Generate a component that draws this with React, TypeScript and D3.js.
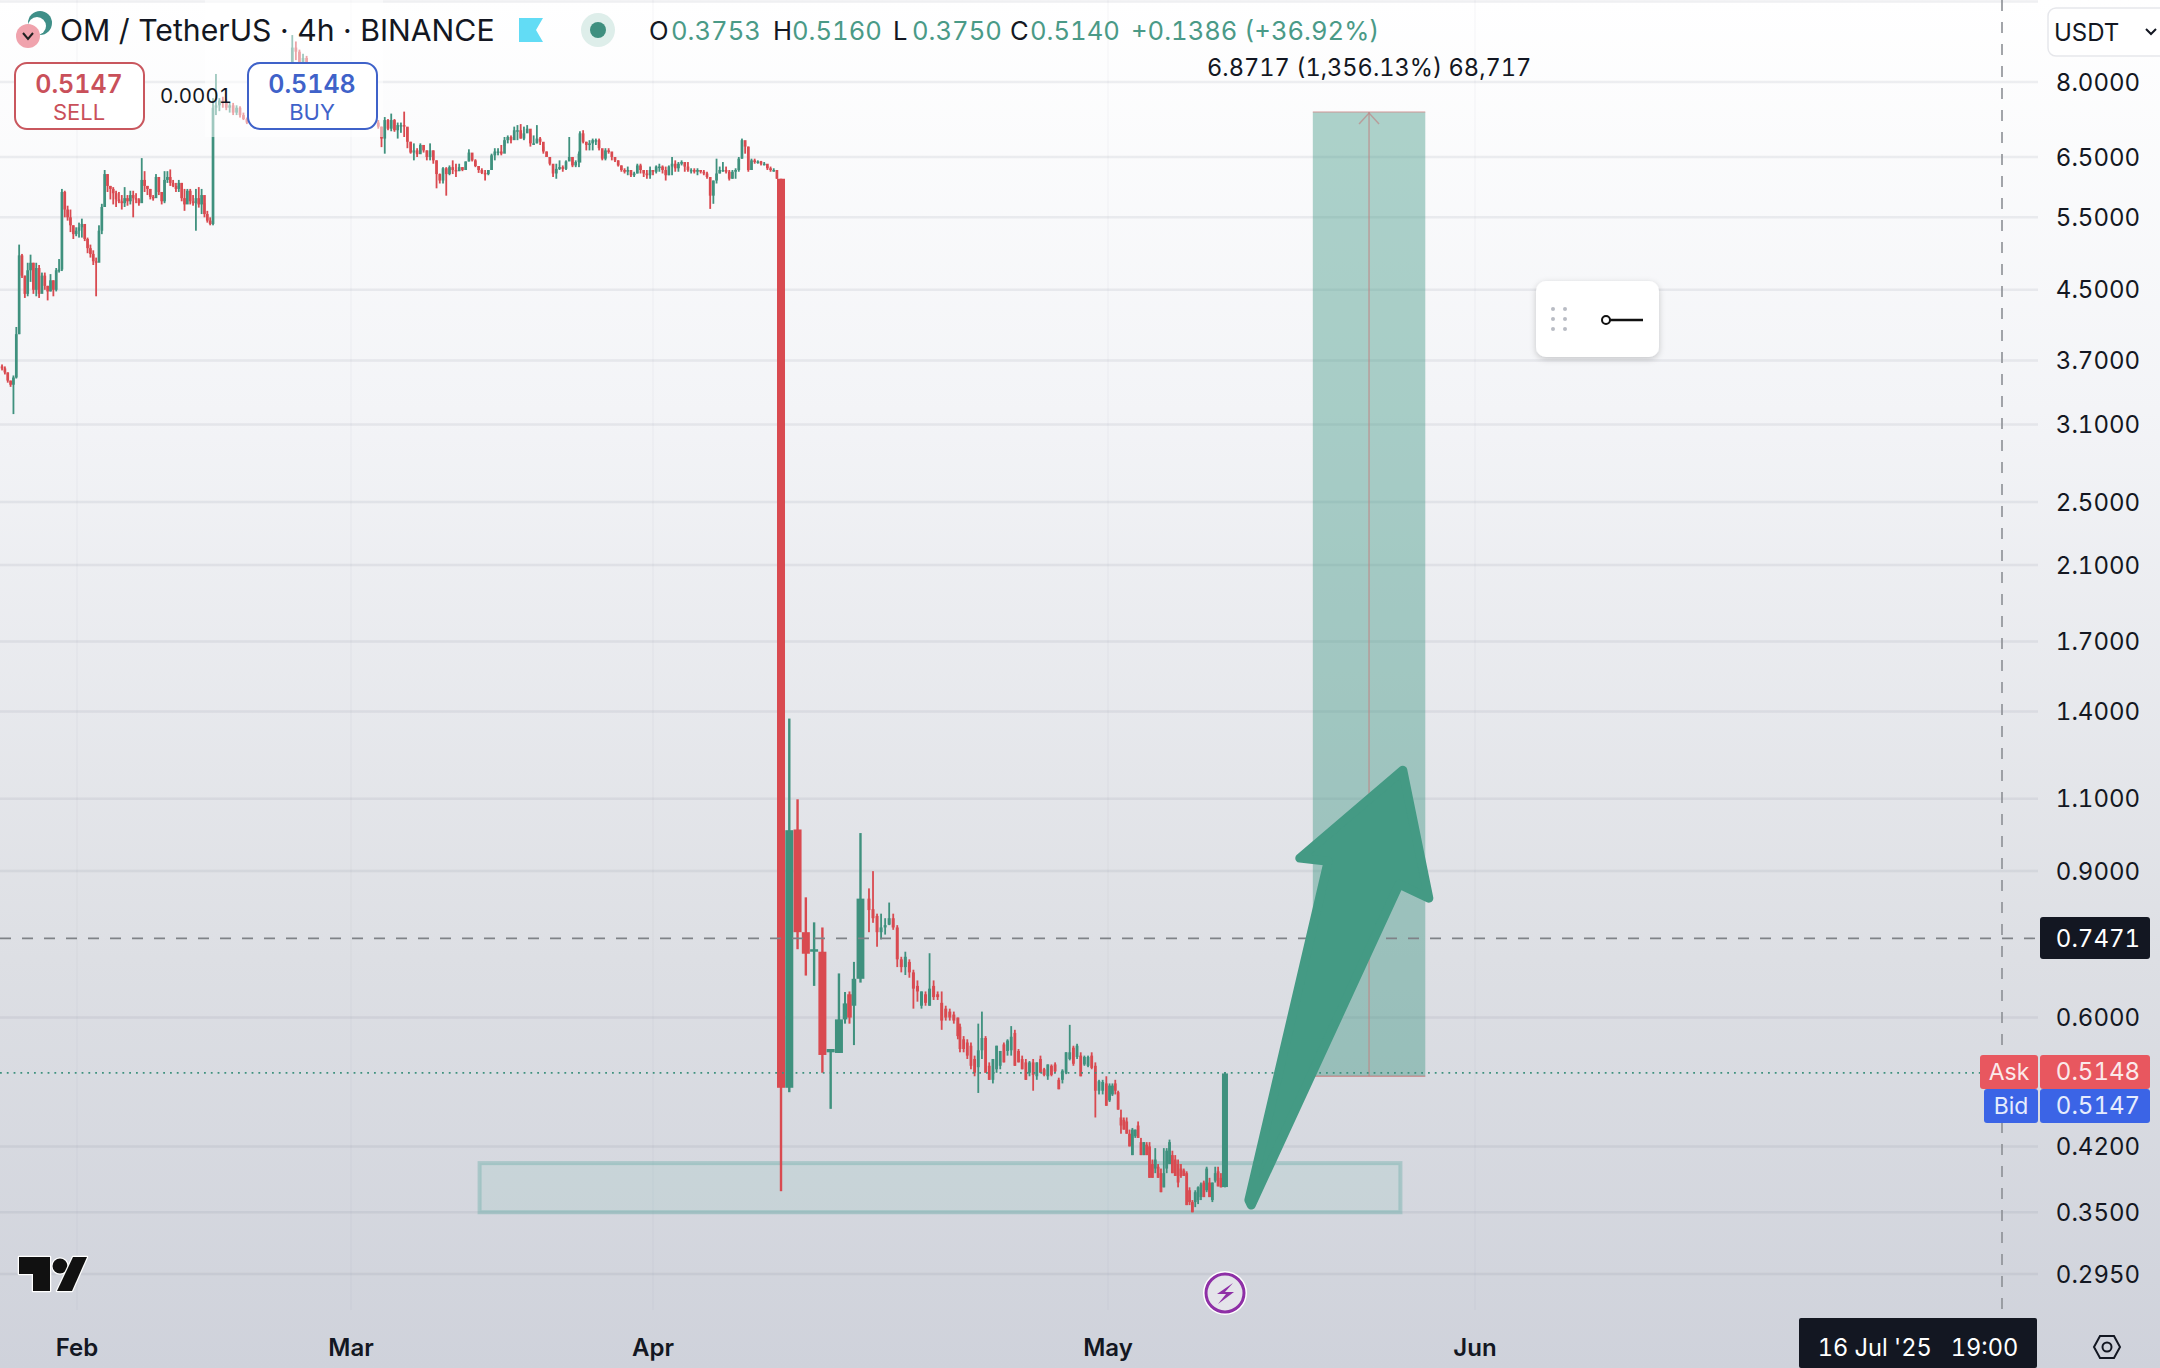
import * as d3 from 'd3';

type Hlc = [number, number, number];
type Ohlc = [number, number, number, number];

// axis values
const priceTicks = [8, 6.5, 5.5, 4.5, 3.7, 3.1, 2.5, 2.1, 1.7, 1.4, 1.1, 0.9, 0.6, 0.42, 0.35, 0.295];
const gridPrices = [10, ...priceTicks];
const monthNames = ['Feb', 'Mar', 'Apr', 'May', 'Jun'];
const monthDays = [0, 28, 59, 89, 120];

// quoted prices
const crosshairPrice = 0.7471;
const askPrice = 0.5148;
const bidPrice = 0.5147;
const positionEntry = 0.51;
const positionTarget = 7.36;
const zoneLow = 0.35;
const zoneHigh = 0.401;

// [high, low, close], open is the close before
const febBars: Hlc[] = [
  [3.66, 3.6, 3.62], [3.64, 3.56, 3.58], [3.58, 3.48, 3.5], [3.5, 3.44, 3.46], [3.55, 3.19, 3.53], [4.06, 3.52, 3.98],
  [5.1, 3.98, 4.95], [4.97, 4.65, 4.68], [4.68, 4.4, 4.45], [4.85, 4.42, 4.75], [4.96, 4.6, 4.85], [4.85, 4.45, 4.5],
  [4.85, 4.42, 4.78], [4.82, 4.4, 4.45], [4.72, 4.5, 4.68], [4.72, 4.5, 4.55], [4.55, 4.37, 4.48], [4.7, 4.48, 4.62],
  [4.62, 4.42, 4.5], [4.78, 4.48, 4.75], [4.9, 4.72, 4.76], [5.95, 4.74, 5.9], [5.92, 5.5, 5.62], [5.68, 5.45, 5.5],
  [5.62, 5.28, 5.38], [5.38, 5.18, 5.25], [5.35, 5.22, 5.3], [5.42, 5.2, 5.35], [5.48, 5.2, 5.4], [5.38, 5.15, 5.18],
  [5.2, 4.98, 5.05], [5.1, 4.92, 4.97], [5.02, 4.82, 4.87], [4.92, 4.42, 4.85], [5.38, 4.95, 5.3], [5.71, 5.25, 5.66],
  [6.27, 5.66, 6.2], [6.2, 5.9, 6.0], [6.0, 5.78, 5.95], [5.98, 5.7, 5.88], [5.92, 5.66, 5.78], [5.9, 5.72, 5.75],
  [5.85, 5.62, 5.72], [5.98, 5.66, 5.8], [5.85, 5.68, 5.75], [5.92, 5.7, 5.85], [5.92, 5.5, 5.8], [5.88, 5.72, 5.78],
  [5.8, 5.68, 5.72], [6.48, 5.75, 6.1], [6.25, 5.9, 6.0], [6.0, 5.85, 5.95], [5.95, 5.78, 5.82], [5.85, 5.76, 5.8],
  [6.2, 5.9, 6.15], [6.15, 5.85, 5.9], [5.9, 5.7, 5.75], [6.25, 5.72, 6.1], [6.25, 6.05, 6.15], [6.28, 6.0, 6.05],
  [6.1, 5.98, 6.0], [6.05, 5.9, 5.95], [6.1, 5.9, 6.05], [6.05, 5.75, 5.8], [5.95, 5.6, 5.7], [5.95, 5.75, 5.92],
  [5.95, 5.7, 5.75], [5.85, 5.68, 5.72], [5.95, 5.3, 5.8], [5.98, 5.65, 5.7], [5.95, 5.55, 5.85], [5.72, 5.5, 5.55],
  [5.6, 5.42, 5.45], [5.5, 5.38, 5.4], [7.65, 5.38, 7.45],
];

const spikeBars: Hlc[] = [
  [8.18, 7.3, 7.5], [7.65, 7.38, 7.6], [7.68, 7.45, 7.55], [7.62, 7.4, 7.45], [7.55, 7.35, 7.5], [7.55, 7.3, 7.35],
  [7.5, 7.3, 7.45], [7.48, 7.25, 7.3], [7.35, 7.2, 7.22], [7.25, 7.12, 7.15],
];

// only the tops show above the BUY box
const peakBars: Hlc[] = [
  [9.11, 8.3, 8.8], [8.95, 8.5, 8.7], [8.75, 8.35, 8.45], [8.65, 8.35, 8.55], [8.6, 8.3, 8.4], [8.45, 8.2, 8.3],
];

const marBars: Hlc[] = [
  [7.2, 7.03, 7.07], [7.07, 6.68, 6.84], [7.26, 6.56, 7.2], [7.22, 7.0, 7.03], [7.33, 6.98, 7.2], [7.22, 6.97, 7.0],
  [7.15, 6.84, 7.1], [7.15, 6.95, 7.1], [7.37, 6.87, 7.07], [7.05, 6.66, 6.78], [6.78, 6.56, 6.58], [6.75, 6.44, 6.62],
  [6.66, 6.5, 6.55], [6.75, 6.58, 6.72], [6.72, 6.58, 6.62], [6.62, 6.44, 6.5], [6.75, 6.44, 6.62], [6.62, 6.38, 6.44],
  [6.44, 5.96, 6.2], [6.21, 6.04, 6.09], [6.32, 6.04, 6.3], [6.32, 5.84, 6.2], [6.35, 6.18, 6.32], [6.44, 6.2, 6.27],
  [6.38, 6.15, 6.25], [6.38, 6.25, 6.32], [6.32, 6.25, 6.27], [6.42, 6.27, 6.42], [6.64, 6.42, 6.58], [6.55, 6.42, 6.44],
  [6.46, 6.32, 6.34], [6.34, 6.22, 6.27], [6.3, 6.2, 6.22], [6.27, 6.09, 6.2], [6.27, 6.18, 6.27], [6.56, 6.27, 6.53],
  [6.66, 6.44, 6.6], [6.66, 6.53, 6.6], [6.72, 6.53, 6.56], [6.87, 6.7, 6.81], [6.9, 6.75, 6.87], [6.9, 6.75, 6.81],
  [7.07, 6.95, 7.0], [7.1, 6.81, 7.0], [7.12, 6.84, 6.84], [7.07, 6.81, 6.94], [7.1, 6.97, 7.03], [6.94, 6.69, 6.75],
  [6.9, 6.72, 6.75], [7.1, 6.75, 6.84], [6.87, 6.72, 6.78], [6.69, 6.56, 6.6], [6.6, 6.5, 6.5], [6.5, 6.35, 6.38],
  [6.32, 6.15, 6.21], [6.38, 6.12, 6.29], [6.44, 6.27, 6.32], [6.35, 6.24, 6.29], [6.44, 6.27, 6.42], [6.87, 6.5, 6.5],
  [6.5, 6.32, 6.35], [6.44, 6.32, 6.41], [6.6, 6.32, 6.56],
];

const aprBars: Hlc[] = [
  [6.98, 6.47, 6.94], [7.0, 6.75, 6.78], [6.78, 6.62, 6.72], [6.81, 6.62, 6.75], [6.84, 6.62, 6.81], [6.84, 6.72, 6.81],
  [6.84, 6.62, 6.66], [6.62, 6.44, 6.47], [6.66, 6.44, 6.62], [6.66, 6.56, 6.6], [6.56, 6.44, 6.5], [6.5, 6.41, 6.44],
  [6.44, 6.33, 6.35], [6.35, 6.24, 6.27], [6.3, 6.21, 6.24], [6.33, 6.18, 6.27], [6.24, 6.15, 6.18], [6.24, 6.15, 6.21],
  [6.38, 6.21, 6.35], [6.38, 6.21, 6.27], [6.27, 6.15, 6.21], [6.27, 6.12, 6.18], [6.33, 6.12, 6.27], [6.27, 6.18, 6.24],
  [6.35, 6.21, 6.33], [6.38, 6.24, 6.33], [6.35, 6.21, 6.27], [6.33, 6.09, 6.18], [6.35, 6.18, 6.33], [6.5, 6.18, 6.38],
  [6.44, 6.24, 6.3], [6.41, 6.24, 6.38], [6.44, 6.35, 6.41], [6.38, 6.24, 6.33], [6.41, 6.24, 6.27], [6.3, 6.21, 6.27],
  [6.3, 6.21, 6.24], [6.3, 6.18, 6.27], [6.27, 6.21, 6.24], [6.27, 6.18, 6.21], [6.24, 6.12, 6.15], [6.15, 5.63, 5.84],
  [6.09, 5.71, 6.09], [6.47, 6.04, 6.21], [6.33, 6.21, 6.27], [6.41, 6.24, 6.27], [6.33, 6.21, 6.24], [6.27, 6.09, 6.12],
  [6.27, 6.12, 6.24], [6.3, 6.12, 6.27], [6.5, 6.24, 6.47], [6.84, 6.47, 6.81], [6.78, 6.56, 6.69], [6.69, 6.24, 6.27],
  [6.47, 6.27, 6.44], [6.47, 6.38, 6.41], [6.44, 6.38, 6.42], [6.43, 6.35, 6.38], [6.41, 6.35, 6.38], [6.35, 6.27, 6.3],
  [6.33, 6.24, 6.27], [6.3, 6.24, 6.27], [6.27, 6.12, 6.12],
];

// [open, high, low, close]
const crashBars: Ohlc[] = [
  [6.12, 6.12, 0.371, 0.494], [0.494, 1.373, 0.488, 1.008], [1.01, 1.098, 0.725, 0.76], [0.76, 0.837, 0.674, 0.716],
  [0.72, 0.781, 0.655, 0.725], [0.72, 0.77, 0.515, 0.541], [0.545, 0.55, 0.466, 0.55], [0.544, 0.678, 0.544, 0.597],
];
const reboundBars: Ohlc[] = [[0.597, 0.644, 0.59, 0.624], [0.64, 0.645, 0.59, 0.6], [0.62, 0.7, 0.556, 0.668]];
const topBar: Ohlc[] = [[0.668, 1.0, 0.661, 0.834]];

const slideBars: Ohlc[] = [
  [0.834, 0.858, 0.76, 0.808], [0.81, 0.9, 0.78, 0.79], [0.795, 0.8, 0.73, 0.76], [0.76, 0.8, 0.745, 0.77],
  [0.77, 0.79, 0.755, 0.775], [0.776, 0.825, 0.775, 0.79], [0.79, 0.8, 0.765, 0.77], [0.77, 0.775, 0.69, 0.705],
  [0.705, 0.71, 0.68, 0.69], [0.69, 0.72, 0.675, 0.71], [0.7, 0.705, 0.67, 0.68], [0.68, 0.685, 0.615, 0.65],
  [0.655, 0.665, 0.627, 0.645], [0.62, 0.645, 0.615, 0.645], [0.64, 0.645, 0.62, 0.625], [0.62, 0.717, 0.62, 0.65],
  [0.655, 0.665, 0.63, 0.635], [0.64, 0.645, 0.63, 0.635], [0.625, 0.645, 0.58, 0.595], [0.615, 0.62, 0.595, 0.6],
  [0.61, 0.615, 0.595, 0.6], [0.605, 0.61, 0.59, 0.595], [0.6, 0.6, 0.565, 0.57],
];

const mayBars: Ohlc[] = [
  [0.585, 0.59, 0.545, 0.55], [0.565, 0.57, 0.545, 0.55], [0.56, 0.565, 0.535, 0.54], [0.555, 0.56, 0.52, 0.525],
  [0.535, 0.54, 0.51, 0.515], [0.523, 0.59, 0.487, 0.548], [0.548, 0.61, 0.535, 0.567], [0.567, 0.57, 0.515, 0.515],
  [0.525, 0.53, 0.505, 0.505], [0.505, 0.535, 0.5, 0.535], [0.52, 0.555, 0.515, 0.555], [0.525, 0.547, 0.52, 0.547],
  [0.557, 0.56, 0.53, 0.53], [0.547, 0.565, 0.54, 0.563], [0.548, 0.586, 0.54, 0.569], [0.575, 0.58, 0.525, 0.525],
  [0.547, 0.55, 0.53, 0.53], [0.535, 0.54, 0.52, 0.52], [0.53, 0.535, 0.505, 0.505], [0.515, 0.532, 0.51, 0.53],
  [0.53, 0.535, 0.49, 0.512], [0.51, 0.53, 0.505, 0.53], [0.535, 0.54, 0.515, 0.515], [0.52, 0.522, 0.51, 0.512],
  [0.51, 0.527, 0.505, 0.527], [0.525, 0.527, 0.51, 0.512], [0.527, 0.53, 0.515, 0.517], [0.505, 0.508, 0.492, 0.492],
  [0.505, 0.52, 0.5, 0.518], [0.515, 0.545, 0.513, 0.545], [0.535, 0.588, 0.533, 0.545], [0.552, 0.555, 0.525, 0.528],
  [0.538, 0.558, 0.535, 0.555], [0.54, 0.545, 0.51, 0.51], [0.527, 0.54, 0.525, 0.538], [0.525, 0.54, 0.523, 0.538],
  [0.54, 0.545, 0.52, 0.522], [0.525, 0.53, 0.455, 0.49], [0.49, 0.505, 0.485, 0.503], [0.49, 0.505, 0.485, 0.502],
  [0.5, 0.51, 0.47, 0.47], [0.477, 0.5, 0.475, 0.497], [0.485, 0.5, 0.483, 0.497], [0.5, 0.505, 0.485, 0.49],
  [0.488, 0.49, 0.465, 0.465], [0.455, 0.465, 0.435, 0.445], [0.452, 0.455, 0.44, 0.44], [0.45, 0.455, 0.435, 0.435],
  [0.435, 0.44, 0.42, 0.42], [0.41, 0.442, 0.41, 0.44], [0.432, 0.44, 0.43, 0.44], [0.445, 0.45, 0.43, 0.43],
  [0.425, 0.43, 0.41, 0.41], [0.41, 0.425, 0.41, 0.425], [0.422, 0.425, 0.41, 0.41], [0.42, 0.425, 0.385, 0.385],
  [0.4, 0.405, 0.385, 0.385], [0.395, 0.418, 0.39, 0.405], [0.397, 0.4, 0.385, 0.385], [0.39, 0.395, 0.37, 0.37],
  [0.375, 0.418, 0.375, 0.39], [0.395, 0.418, 0.39, 0.415], [0.4, 0.428, 0.4, 0.425], [0.41, 0.415, 0.39, 0.39],
  [0.405, 0.41, 0.387, 0.387], [0.4, 0.405, 0.375, 0.38], [0.395, 0.4, 0.385, 0.387], [0.393, 0.395, 0.387, 0.387],
  [0.39, 0.392, 0.357, 0.357], [0.372, 0.375, 0.357, 0.36], [0.36, 0.362, 0.35, 0.35], [0.36, 0.372, 0.355, 0.37],
  [0.362, 0.376, 0.358, 0.375], [0.365, 0.38, 0.362, 0.378], [0.38, 0.382, 0.365, 0.365], [0.372, 0.397, 0.37, 0.395],
  [0.38, 0.385, 0.365, 0.365], [0.362, 0.38, 0.36, 0.38], [0.382, 0.397, 0.38, 0.39], [0.392, 0.397, 0.376, 0.376],
  [0.385, 0.39, 0.375, 0.375],
];
const breakoutBar: Ohlc[] = [[0.3753, 0.516, 0.375, 0.514]];

// [day since 1 Feb, price] for the hand drawn arrow
const arrowOutline: [number, number][] = [
  [100.9, 0.362], [107.6, 0.925], [105.2, 0.933], [113.9, 1.19], [116.1, 0.835], [113.6, 0.868], [101.1, 0.357],
];

const FONT = 'Inter, "Noto Sans", sans-serif';
const RED = '#d94a50';
const GREEN = '#3f917e';
const INK = '#131722';
const TNUM = { fontVariantNumeric: 'tabular-nums' };

const withOpens = (bars: Hlc[], first: number): Ohlc[] => {
  let prev = first;
  return bars.map(([h, l, c]) => {
    const bar: Ohlc = [prev, h, l, c];
    prev = c;
    return bar;
  });
};

const aprOhlc = withOpens(aprBars, 6.4);

// April run is split at the month start because the time scale changes pace there
const segments: { bars: Ohlc[]; from: number; to: number; body: number; wick: number }[] = [
  { bars: withOpens(febBars, 3.64), from: -7.66, to: 13.9, body: 2.7, wick: 1.8 },
  { bars: withOpens(spikeBars, 7.45), from: 14.2, to: 17.36, body: 2.7, wick: 1.8 },
  { bars: withOpens(peakBars, 8.4), from: 22, to: 23.83, body: 2.7, wick: 1.8 },
  { bars: withOpens(marBars, 7.15), from: 30.8, to: 51.4, body: 2.7, wick: 1.8 },
  { bars: aprOhlc.slice(0, 23), from: 51.5, to: 58.7, body: 2.7, wick: 1.8 },
  { bars: aprOhlc.slice(23), from: 59, to: 67.17, body: 2.7, wick: 1.8 },
  { bars: crashBars, from: 67.44, to: 71.26, body: 8, wick: 2.4 },
  { bars: reboundBars, from: 71.66, to: 72.25, body: 4.6, wick: 2 },
  { bars: topBar, from: 72.68, to: 72.68, body: 7.8, wick: 2.4 },
  { bars: slideBars, from: 73.24, to: 79.1, body: 3, wick: 1.8 },
  { bars: mayBars, from: 79.24, to: 98.54, body: 2.8, wick: 1.8 },
  { bars: breakoutBar, from: 98.88, to: 98.88, body: 6, wick: 2 },
];

export default function App() {
  const x = d3.scaleLinear().domain(monthDays).range([77, 351, 653, 1108, 1475]);
  const y = d3.scaleLog().domain([8, 0.295]).range([82, 1274]);
  const arrowPath = d3
    .line<[number, number]>()
    .x((d) => x(d[0]))
    .y((d) => y(d[1]))
    .curve(d3.curveLinearClosed)(arrowOutline);

  const zoneX0 = x(41.2);
  const zoneX1 = x(113.7);
  const posX0 = x(106.3);
  const posX1 = x(115.8);
  const posMid = (posX0 + posX1) / 2;
  const posTop = y(positionTarget);
  const posBottom = y(positionEntry);

  return (
    <svg width={2160} height={1368} style={{ position: 'fixed', left: 0, top: 0, fontFamily: FONT }}>
      <defs>
        <linearGradient id="bg" x1="0" y1="0" x2="0" y2="1">
          <stop offset="0" stopColor="#ffffff" />
          <stop offset="0.3" stopColor="#f3f4f7" />
          <stop offset="0.7" stopColor="#dddfe4" />
          <stop offset="1" stopColor="#cfd2db" />
        </linearGradient>
        <filter id="soft" x="-20%" y="-20%" width="140%" height="150%">
          <feDropShadow dx="0" dy="2" stdDeviation="3" floodColor="#000" floodOpacity="0.2" />
        </filter>
      </defs>
      <rect width={2160} height={1368} fill="url(#bg)" />

      {monthDays.map((d) => (
        <line key={d} x1={x(d)} x2={x(d)} y1={0} y2={1310} stroke="rgba(120,125,150,0.035)" strokeWidth={2} />
      ))}
      {gridPrices.map((p) => (
        <line key={p} x1={0} x2={2038} y1={y(p)} y2={y(p)} stroke="rgba(110,115,140,0.11)" strokeWidth={2.5} />
      ))}

      {/* demand zone */}
      <rect
        x={zoneX0}
        y={y(zoneHigh)}
        width={zoneX1 - zoneX0}
        height={y(zoneLow) - y(zoneHigh)}
        fill="rgba(120,190,180,0.14)"
        stroke="rgba(110,175,170,0.42)"
        strokeWidth={4}
      />

      {/* candles */}
      {segments.map((seg, si) => {
        const step = d3.scaleLinear().domain([0, Math.max(1, seg.bars.length - 1)]).range([seg.from, seg.to]);
        return (
          <g key={si}>
            {seg.bars.map(([o, h, l, c], i) => {
              const cx = x(step(i));
              const color = c >= o ? GREEN : RED;
              const top = y(Math.max(o, c));
              return (
                <g key={i} fill={color}>
                  <rect x={cx - seg.wick / 2} width={seg.wick} y={y(h)} height={y(l) - y(h)} />
                  <rect x={cx - seg.body / 2} width={seg.body} y={top} height={Math.max(1.5, y(Math.min(o, c)) - top)} />
                </g>
              );
            })}
          </g>
        );
      })}

      {/* long position tool */}
      <rect x={posX0} y={posTop} width={posX1 - posX0} height={posBottom - posTop} fill="rgba(62,150,132,0.42)" />
      <line x1={posX0} x2={posX1} y1={posTop} y2={posTop} stroke="rgba(200,130,130,0.55)" strokeWidth={1.5} />
      <line x1={posX0} x2={posX1} y1={posBottom} y2={posBottom} stroke="rgba(200,110,110,0.6)" strokeWidth={1.5} />
      <line x1={posMid} x2={posMid} y1={posTop} y2={posBottom} stroke="rgba(190,130,130,0.65)" strokeWidth={1.5} />
      <path
        d={`M${posMid - 10} ${posTop + 12} L${posMid} ${posTop + 1} L${posMid + 10} ${posTop + 12}`}
        fill="none"
        stroke="rgba(190,130,130,0.65)"
        strokeWidth={1.5}
      />

      {/* price and crosshair lines */}
      <line x1={0} x2={1980} y1={y(askPrice)} y2={y(askPrice)} stroke={GREEN} strokeWidth={1.8} strokeDasharray="1.8 5" />
      <line
        x1={0}
        x2={2036}
        y1={y(crosshairPrice)}
        y2={y(crosshairPrice)}
        stroke="#7f8287"
        strokeWidth={1.6}
        strokeDasharray="11 11"
      />
      <line x1={2002} x2={2002} y1={0} y2={1310} stroke="#8c8f95" strokeWidth={1.6} strokeDasharray="11 11" />

      <path d={arrowPath ?? ''} fill="#449a84" stroke="#449a84" strokeWidth={9} strokeLinejoin="round" />

      {/* legend fades what runs under it */}
      <rect x={205} y={0} width={178} height={137} fill="#fff" opacity={0.5} />

      {/* legend */}
      <circle cx={40} cy={23} r={12} fill="#3f8f88" />
      <circle cx={37} cy={26} r={9} fill="#fff" />
      <circle cx={28} cy={36} r={12} fill="#f0a3ad" />
      <path d="M23 33 L28 39 L33 33" fill="none" stroke="#222" strokeWidth={2} />
      <text x={60} y={41} fontSize={30.2} fill={INK}>OM / TetherUS · 4h · BINANCE</text>
      <path d="M519 18 H543 L536 30 L543 42 H519Z" fill="#62dcf5" />
      <circle cx={598} cy={30} r={17} fill="#deeeea" />
      <circle cx={598} cy={30} r={8} fill="#3f8f7f" />
      <g fontSize={25.6} style={TNUM}>
        <text x={649} y={40} fill={INK}>O</text>
        <text x={671} y={40} fill="#4a9a87">0.3753</text>
        <text x={773} y={40} fill={INK}>H</text>
        <text x={792} y={40} fill="#4a9a87">0.5160</text>
        <text x={893} y={40} fill={INK}>L</text>
        <text x={912} y={40} fill="#4a9a87">0.3750</text>
        <text x={1010} y={40} fill={INK}>C</text>
        <text x={1030} y={40} fill="#4a9a87">0.5140</text>
        <text x={1131} y={40} fill="#4a9a87">+0.1386 (+36.92%)</text>
      </g>

      <rect x={15} y={63} width={129} height={66} rx={12} fill="#fff" stroke="#c9575e" strokeWidth={2} />
      <text x={79} y={93} textAnchor="middle" fontSize={25} fontWeight={600} fill="#c9505a" style={TNUM}>0.5147</text>
      <text x={79} y={120} textAnchor="middle" fontSize={22} fill="#c9505a">SELL</text>
      <text x={196} y={103} textAnchor="middle" fontSize={20.5} fill={INK} style={TNUM}>0.0001</text>
      <rect x={248} y={63} width={129} height={66} rx={12} fill="#fff" stroke="#3f62c9" strokeWidth={2} />
      <text x={312} y={93} textAnchor="middle" fontSize={25} fontWeight={600} fill="#3f62c9" style={TNUM}>0.5148</text>
      <text x={312} y={120} textAnchor="middle" fontSize={22} fill="#3f62c9">BUY</text>

      <text x={1207} y={76} fontSize={23.6} fill={INK} style={TNUM}>6.8717 (1,356.13%) 68,717</text>

      {/* drawing toolbar */}
      <rect x={1536} y={281} width={123} height={76} rx={10} fill="#fff" filter="url(#soft)" />
      {[0, 1, 2].map((r) =>
        [0, 1].map((k) => <circle key={`${r}${k}`} cx={1553 + k * 12} cy={309 + r * 10} r={2} fill="#b9bcc4" />),
      )}
      <circle cx={1606} cy={320} r={4} fill="#fff" stroke="#111" strokeWidth={2} />
      <line x1={1610} x2={1643} y1={320} y2={320} stroke="#111" strokeWidth={2.5} />

      {/* price scale */}
      <rect x={2048} y={8} width={130} height={48} rx={8} fill="#fff" stroke="#e6e7eb" strokeWidth={1.5} />
      <text x={2054} y={41} fontSize={24} fill={INK}>USDT</text>
      <path d="M2146 29 L2151 34 L2156 29" fill="none" stroke={INK} strokeWidth={2} />
      {priceTicks.map((p) => (
        <text key={p} x={2098} y={y(p)} dy="0.36em" textAnchor="middle" fontSize={24} fill={INK} style={TNUM}>
          {p.toFixed(4)}
        </text>
      ))}

      <rect x={2040} y={917} width={110} height={42} rx={3} fill={INK} />
      <text x={2098} y={y(crosshairPrice)} dy="0.36em" textAnchor="middle" fontSize={24} fill="#fff" style={TNUM}>
        {crosshairPrice.toFixed(4)}
      </text>

      <rect x={1980} y={1055} width={58} height={34} rx={3} fill="#e8575f" />
      <rect x={2040} y={1055} width={110} height={34} rx={3} fill="#e8575f" />
      <text x={2009} y={1080} textAnchor="middle" fontSize={23} fill="#fbe9ea">Ask</text>
      <text x={2098} y={1080} textAnchor="middle" fontSize={24} fill="#fbe9ea" style={TNUM}>{askPrice.toFixed(4)}</text>
      <rect x={1984} y={1089} width={54} height={34} rx={3} fill="#3b64e6" />
      <rect x={2040} y={1089} width={110} height={34} rx={3} fill="#3b64e6" />
      <text x={2011} y={1114} textAnchor="middle" fontSize={23} fill="#e6ecfd">Bid</text>
      <text x={2098} y={1114} textAnchor="middle" fontSize={24} fill="#e6ecfd" style={TNUM}>{bidPrice.toFixed(4)}</text>

      {/* time scale */}
      {monthNames.map((m, i) => (
        <text key={m} x={x(monthDays[i])} y={1356} textAnchor="middle" fontSize={24} fontWeight={600} fill={INK}>
          {m}
        </text>
      ))}
      <rect x={1799} y={1318} width={238} height={50} rx={2} fill={INK} />
      <text x={1918} y={1356} textAnchor="middle" fontSize={23.6} fill="#fff" xmlSpace="preserve" style={TNUM}>
        16 Jul '25   19:00
      </text>
      <path
        d="M2094 1347 L2100 1336 H2114 L2120 1347 L2114 1358 H2100Z"
        fill="none"
        stroke={INK}
        strokeWidth={2}
      />
      <circle cx={2107} cy={1347} r={4.5} fill="none" stroke={INK} strokeWidth={2} />

      {/* tradingview mark */}
      <g fill="#111" stroke="#fff" strokeWidth={2.5} strokeLinejoin="round" paintOrder="stroke">
        <path d="M19 1257 H50 V1291 H33 V1274 H19Z" />
        <circle cx={60} cy={1266} r={7.5} />
        <path d="M73 1257 H87 L72 1291 H57Z" />
      </g>

      {/* event marker */}
      <circle cx={1225} cy={1293} r={22} fill="#fff" />
      <circle cx={1225} cy={1293} r={19} fill="#e4e4ea" stroke="#8e2fa6" strokeWidth={3} />
      <path d="M1233 1283 L1217 1294 H1226 L1218 1304 L1234 1292 H1225Z" fill="#8e2fa6" />
    </svg>
  );
}
